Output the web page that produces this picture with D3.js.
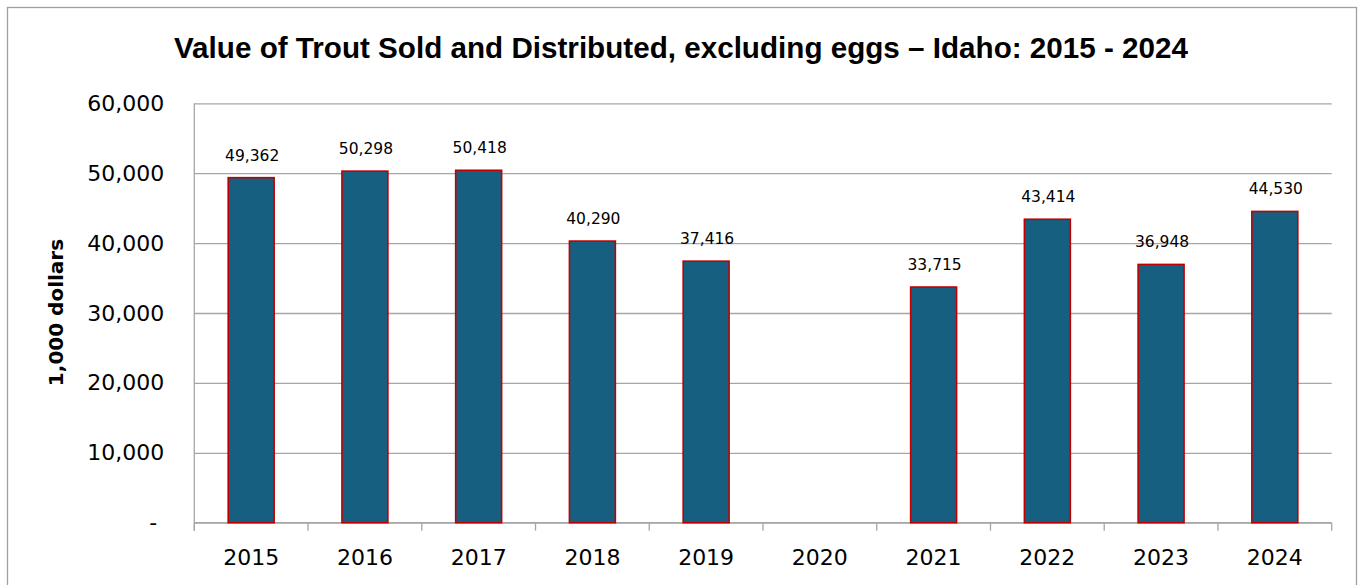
<!DOCTYPE html>
<html>
<head>
<meta charset="utf-8">
<script src="https://cdn.jsdelivr.net/npm/d3@7"></script>
<style>
  html, body { margin: 0; padding: 0; background: #fff; }
  svg { display: block; }
</style>
</head>
<body>
<svg id="chart" width="1359" height="585"></svg>
<script>
const titleText = "Value of Trout Sold and Distributed, excluding eggs \u2013 Idaho: 2015 - 2024";
const yAxisTitle = "1,000 dollars";
const years = ["2015","2016","2017","2018","2019","2020","2021","2022","2023","2024"];
const values = [49362, 50298, 50418, 40290, 37416, null, 33715, 43414, 36948, 44530];
const yTicks = [0, 10000, 20000, 30000, 40000, 50000, 60000];

const W = 1359, H = 585;
const margin = { left: 194.3, right: W - 1331.7, top: 103.3, bottom: H - 522.7 };
const svg = d3.select("#chart");
const font = "'DejaVu Sans', 'Liberation Sans', Arial, sans-serif";

// outer frame
svg.append("rect")
  .attr("x", 7.5).attr("y", 7.5)
  .attr("width", 1349).attr("height", 600)
  .attr("fill", "#fff").attr("stroke", "#a0a0a0").attr("stroke-width", 1.3);

const x = d3.scaleBand()
  .domain(years)
  .range([margin.left, W - margin.right])
  .paddingInner(0.596)
  .paddingOuter(0.298);

const y = d3.scaleLinear()
  .domain([0, 60000])
  .range([H - margin.bottom, margin.top]);

const plotW = W - margin.right - margin.left;

// y axis with gridlines
const yAxis = d3.axisLeft(y)
  .tickValues(yTicks)
  .tickSize(-plotW)
  .tickPadding(30)
  .tickFormat(d => d === 0 ? "- " : d3.format(",")(d));

const gy = svg.append("g")
  .attr("transform", `translate(${margin.left},0)`)
  .call(yAxis);
gy.select(".domain").remove();
gy.selectAll(".tick line").attr("stroke", "#a6a6a6").attr("stroke-width", 1.3);
gy.selectAll(".tick text")
  .attr("font-family", font).attr("font-size", 22).attr("fill", "#000")
  .style("white-space", "pre");

// left axis vertical line (extends below baseline like tick)
svg.append("line")
  .attr("x1", margin.left).attr("x2", margin.left)
  .attr("y1", y(60000)).attr("y2", y(0) + 8)
  .attr("stroke", "#a6a6a6").attr("stroke-width", 1.3);

// baseline
svg.append("line")
  .attr("x1", margin.left).attr("x2", W - margin.right)
  .attr("y1", y(0)).attr("y2", y(0))
  .attr("stroke", "#a6a6a6").attr("stroke-width", 1.3);

// category boundary ticks
const boundaries = d3.range(years.length + 1).map(i => x.range()[0] + i * x.step());
svg.append("g").selectAll("line")
  .data(boundaries)
  .join("line")
  .attr("x1", d => d).attr("x2", d => d)
  .attr("y1", y(0)).attr("y2", y(0) + 8)
  .attr("stroke", "#a6a6a6").attr("stroke-width", 1.3);

// x axis labels
const gx = svg.append("g")
  .attr("transform", `translate(0,${y(0)})`)
  .call(d3.axisBottom(x).tickSize(0).tickPadding(27));
gx.select(".domain").remove();
gx.selectAll(".tick text")
  .attr("font-family", font).attr("font-size", 22).attr("fill", "#000");

// bars
const data = years.map((yr, i) => ({ year: yr, value: values[i] })).filter(d => d.value != null);

svg.append("g").selectAll("rect")
  .data(data)
  .join("rect")
  .attr("x", d => x(d.year))
  .attr("y", d => y(d.value))
  .attr("width", x.bandwidth())
  .attr("height", d => y(0) - y(d.value))
  .attr("fill", "#175f80")
  .attr("stroke", "#c00000")
  .attr("stroke-width", 1.6);

// data labels
svg.append("g").selectAll("text")
  .data(data)
  .join("text")
  .attr("x", d => x(d.year) + x.bandwidth() / 2 + 1)
  .attr("y", d => y(d.value) - 17)
  .attr("text-anchor", "middle")
  .attr("font-family", font).attr("font-size", 15.5).attr("fill", "#000")
  .text(d => d3.format(",")(d.value));

// title
svg.append("text")
  .attr("x", 681).attr("y", 58.3)
  .attr("text-anchor", "middle")
  .attr("font-family", "'Liberation Sans', Arial, sans-serif")
  .attr("font-weight", "bold")
  .attr("font-size", 29.5)
  .attr("fill", "#000")
  .attr("textLength", 1014)
  .attr("lengthAdjust", "spacingAndGlyphs")
  .text(titleText);

// y axis title
svg.append("text")
  .attr("transform", `translate(63,312.5) rotate(-90)`)
  .attr("text-anchor", "middle")
  .attr("font-family", font)
  .attr("font-weight", "bold")
  .attr("font-size", 20)
  .attr("fill", "#000")
  .text(yAxisTitle);
</script>
</body>
</html>
